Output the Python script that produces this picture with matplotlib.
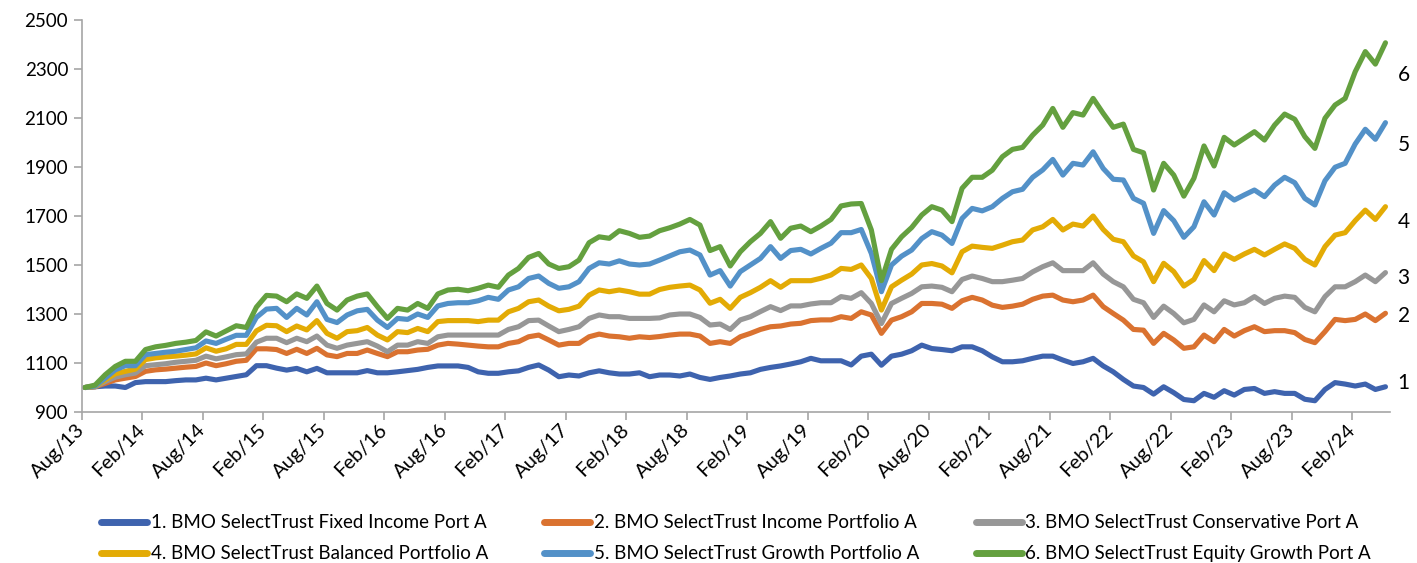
import numpy as np
import matplotlib
matplotlib.use("Agg")
import matplotlib.pyplot as plt

# ---------------- data ----------------
tick_labels = ["Aug/13", "Feb/14", "Aug/14", "Feb/15", "Aug/15", "Feb/16", "Aug/16",
               "Feb/17", "Aug/17", "Feb/18", "Aug/18", "Feb/19", "Aug/19", "Feb/20",
               "Aug/20", "Feb/21", "Aug/21", "Feb/22", "Aug/22", "Feb/23", "Aug/23", "Feb/24"]

series_names = ["1. BMO SelectTrust Fixed Income Port A",
                "2. BMO SelectTrust Income Portfolio A",
                "3. BMO SelectTrust Conservative Port A",
                "4. BMO SelectTrust Balanced Portfolio A",
                "5. BMO SelectTrust Growth Portfolio A",
                "6. BMO SelectTrust Equity Growth Port A"]

end_labels = ["1", "2", "3", "4", "5", "6"]

fixed_income = [
    1000, 1003, 1006, 1006, 1000, 1020, 1024, 1024, 1024, 1028, 1031, 1031, 1038, 1031, 1038, 1045, 1052, 1089, 1089, 1079,
    1071, 1078, 1064, 1078, 1060, 1060, 1060, 1060, 1069, 1060, 1060, 1064, 1069, 1074, 1082, 1088, 1088, 1088, 1082,
    1064, 1058, 1058, 1064, 1068, 1082, 1092, 1071, 1044, 1051, 1047, 1060, 1068, 1060, 1055, 1055, 1060, 1044, 1051,
    1051, 1047, 1055, 1041, 1033, 1041, 1047, 1055, 1060, 1074, 1082, 1088, 1096, 1105, 1119, 1109, 1109, 1109, 1092,
    1128, 1136, 1091, 1128, 1136, 1150, 1173, 1159, 1155, 1150, 1166, 1166, 1150, 1125, 1105, 1105, 1109, 1119,
    1128, 1128, 1112, 1098, 1105, 1119, 1088, 1064, 1033, 1006, 1000, 973, 1003, 979, 951, 946, 976, 960, 987,
    969, 992, 996, 976, 983, 976, 976, 952, 946, 992, 1020, 1014, 1006, 1014, 992, 1003]

income = [
    1000, 1003, 1017, 1031, 1038, 1045, 1066, 1072, 1075, 1079, 1083, 1086, 1100, 1089, 1097, 1107, 1111, 1158, 1158, 1155,
    1139, 1156, 1139, 1160, 1133, 1126, 1139, 1139, 1153, 1139, 1126, 1146, 1146, 1153, 1156, 1173, 1180, 1177, 1173,
    1169, 1166, 1166, 1180, 1187, 1207, 1214, 1194, 1173, 1180, 1180, 1207, 1218, 1210, 1207, 1201, 1207, 1204, 1208,
    1214, 1218, 1218, 1210, 1180, 1187, 1180, 1207, 1221, 1237, 1248, 1251, 1259, 1262, 1273, 1276, 1276, 1289, 1282,
    1309, 1296, 1221, 1275, 1289, 1309, 1343, 1343, 1340, 1323, 1354, 1368, 1357, 1336, 1327, 1332, 1340, 1360,
    1373, 1377, 1357, 1350, 1357, 1377, 1330, 1302, 1275, 1237, 1234, 1180, 1221, 1194, 1160, 1166, 1214, 1187, 1237,
    1210, 1232, 1248, 1228, 1232, 1232, 1224, 1196, 1183, 1228, 1278, 1273, 1278, 1300, 1273, 1303]

conservative = [
    1000, 1003, 1024, 1042, 1052, 1059, 1089, 1093, 1097, 1103, 1107, 1111, 1128, 1117, 1125, 1134, 1137, 1185, 1201, 1201,
    1183, 1201, 1187, 1210, 1173, 1160, 1173, 1180, 1187, 1169, 1146, 1173, 1173, 1187, 1180, 1207, 1214, 1214, 1214,
    1214, 1214, 1214, 1237, 1248, 1273, 1275, 1251, 1228, 1237, 1248, 1282, 1296, 1289, 1289, 1282, 1282, 1282, 1284,
    1296, 1300, 1300, 1286, 1255, 1259, 1237, 1276, 1289, 1310, 1330, 1314, 1333, 1333, 1341, 1346, 1346, 1371, 1364,
    1387, 1343, 1261, 1343, 1364, 1384, 1411, 1414, 1409, 1391, 1441, 1455, 1445, 1432, 1432, 1438, 1445, 1472,
    1493, 1509, 1477, 1477, 1477, 1509, 1463, 1432, 1411, 1360, 1346, 1286, 1332, 1302, 1264, 1278, 1337, 1309, 1354,
    1337, 1346, 1371, 1343, 1364, 1373, 1368, 1327, 1309, 1371, 1411, 1411, 1432, 1459, 1432, 1469]

balanced = [
    1000, 1005, 1031, 1056, 1066, 1075, 1114, 1121, 1125, 1128, 1132, 1137, 1162, 1148, 1158, 1176, 1176, 1231, 1254, 1252,
    1228, 1251, 1235, 1273, 1221, 1201, 1228, 1232, 1245, 1214, 1194, 1228, 1224, 1241, 1228, 1269, 1273, 1273, 1273,
    1269, 1275, 1275, 1309, 1323, 1350, 1357, 1332, 1313, 1319, 1332, 1377, 1398, 1391, 1398, 1391, 1381, 1381, 1400,
    1409, 1414, 1418, 1398, 1344, 1360, 1323, 1368, 1387, 1409, 1436, 1409, 1436, 1436, 1436, 1446, 1459, 1486, 1482,
    1500, 1445, 1316, 1411, 1438, 1463, 1500, 1506, 1496, 1468, 1554, 1577, 1572, 1568, 1581, 1595, 1602, 1643,
    1656, 1686, 1643, 1667, 1659, 1700, 1645, 1605, 1595, 1537, 1513, 1432, 1507, 1473, 1414, 1441, 1518, 1477, 1545,
    1523, 1545, 1564, 1541, 1564, 1586, 1568, 1523, 1500, 1575, 1622, 1632, 1681, 1724, 1686, 1738]

growth = [
    1000, 1006, 1038, 1072, 1089, 1089, 1134, 1139, 1144, 1148, 1155, 1162, 1190, 1180, 1197, 1213, 1213, 1286, 1320, 1323,
    1286, 1323, 1296, 1350, 1278, 1265, 1296, 1313, 1319, 1275, 1245, 1282, 1278, 1300, 1286, 1333, 1343, 1346, 1346,
    1354, 1368, 1360, 1398, 1411, 1445, 1455, 1425, 1405, 1411, 1432, 1486, 1509, 1504, 1517, 1504, 1500, 1504, 1520,
    1537, 1554, 1561, 1541, 1459, 1477, 1414, 1473, 1500, 1527, 1575, 1527, 1559, 1564, 1545, 1568, 1589, 1632, 1632,
    1645, 1547, 1391, 1500, 1536, 1561, 1608, 1636, 1622, 1588, 1690, 1731, 1721, 1738, 1772, 1799, 1809, 1858,
    1888, 1931, 1867, 1915, 1908, 1962, 1894, 1850, 1847, 1772, 1752, 1629, 1722, 1681, 1613, 1656, 1758, 1704, 1795,
    1765, 1786, 1806, 1779, 1826, 1858, 1836, 1772, 1745, 1844, 1899, 1915, 1994, 2054, 2013, 2081]

equity_growth = [
    1000, 1010, 1052, 1086, 1107, 1107, 1155, 1166, 1172, 1180, 1185, 1192, 1227, 1210, 1231, 1252, 1245, 1328, 1376, 1373,
    1350, 1382, 1364, 1414, 1343, 1316, 1357, 1373, 1382, 1330, 1282, 1323, 1316, 1343, 1323, 1382, 1398, 1401, 1395,
    1405, 1418, 1409, 1459, 1486, 1531, 1547, 1504, 1486, 1493, 1520, 1591, 1615, 1609, 1640, 1629, 1613, 1618, 1640,
    1652, 1667, 1686, 1663, 1559, 1575, 1496, 1554, 1595, 1629, 1677, 1609, 1650, 1659, 1636, 1659, 1686, 1741, 1749,
    1751, 1643, 1436, 1564, 1615, 1653, 1704, 1738, 1724, 1677, 1813, 1858, 1858, 1887, 1942, 1972, 1980, 2030,
    2071, 2139, 2062, 2122, 2112, 2180, 2119, 2062, 2075, 1972, 1958, 1806, 1915, 1867, 1781, 1854, 1986, 1904, 2021,
    1990, 2017, 2044, 2010, 2071, 2116, 2095, 2024, 1976, 2099, 2153, 2180, 2289, 2371, 2320, 2407]

end_label_values = [1018, 1292, 1447, 1676, 1990, 2276]

# ---------------- style ----------------
colors = ["#3E63AE", "#DA7230", "#979797", "#E3AB05", "#5391C8", "#64A03F"]
plt.rcParams['font.family'] = ['Lato', 'DejaVu Sans']

fig = plt.figure(figsize=(14.17, 5.63), dpi=100)
ax = fig.add_axes([82 / 1417, 1 - 412 / 563, (1390 - 82) / 1417, (412 - 20) / 563])

all_series = [fixed_income, income, conservative, balanced, growth, equity_growth]
handles = []
for vals, name, c in zip(all_series, series_names, colors):
    x = np.arange(len(vals))
    h, = ax.plot(x, vals, color=c, lw=3.7, label=name, solid_joinstyle='round',
                 solid_capstyle='round')
    handles.append(h)

n = len(fixed_income)
ax.set_xlim(-0.3, n - 1 + 0.45)
ax.set_ylim(900, 2500)
ax.set_yticks(np.arange(900, 2501, 200))
ax.set_xticks(np.arange(0, 6 * len(tick_labels), 6) - 0.3)
ax.set_xticklabels(tick_labels, rotation=45, ha='right', va='center',
                   rotation_mode='anchor')

for side in ['top', 'right']:
    ax.spines[side].set_visible(False)
for side in ['left', 'bottom']:
    ax.spines[side].set_color('#A6A6A6')
    ax.spines[side].set_linewidth(1.2)
ax.tick_params(axis='both', colors='#A6A6A6', labelcolor='#000000',
               length=6, width=1.2)
ax.tick_params(axis='y', labelsize=13.5, pad=4)
ax.tick_params(axis='x', labelsize=14.5, pad=5)

for lab, v in zip(end_labels, end_label_values):
    ax.text(n - 1 + 1.8, v, lab, fontsize=15, color='#000000', ha='center',
            va='center', clip_on=False)

# row-wise legend order for a 3-column, 2-row legend
order = [0, 3, 1, 4, 2, 5]
leg = ax.legend([handles[i] for i in order], [series_names[i] for i in order],
                loc='upper center', bbox_to_anchor=(0.5, -0.227), ncol=3,
                frameon=False, fontsize=13.5, handlelength=2.45, handletextpad=0.2,
                columnspacing=3.0, labelspacing=0.75, borderpad=0.2)
for h in leg.get_lines():
    h.set_linewidth(5)
    h.set_solid_capstyle('round')

fig.savefig("out.png", dpi=100)
